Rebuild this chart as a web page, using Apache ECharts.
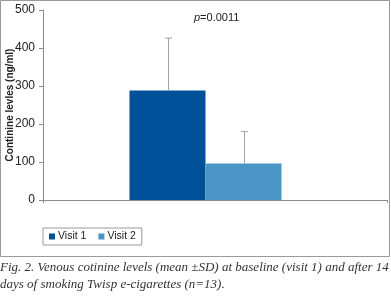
<!DOCTYPE html>
<html>
<head>
<meta charset="utf-8">
<script src="https://cdn.jsdelivr.net/npm/echarts@6/dist/echarts.min.js"></script>
<style>
  html, body { margin: 0; padding: 0; background: #fff; }
  #chart { width: 391px; height: 297px; }
</style>
</head>
<body>
<div id="chart"></div>
<script>
// data
var visits = ['Visit 1', 'Visit 2']
var means = [288, 96]
var sds = [138, 84]
var yTicks = [0, 100, 200, 300, 400, 500]
var pText = '=0.0011'
var yName = 'Continine levles (ng/ml)'
var caption = [
  'Fig. 2. Venous cotinine levels (mean \u00b1SD) at baseline (visit 1) and after 14',
  'days of smoking Twisp e-cigarettes (n=13).'
]

var colors = ['#00509a', '#4a97c7']
var sansFont = "'Liberation Sans', Arial, sans-serif"
var barW = 76

var chart = echarts.init(document.getElementById('chart'))

var barSeries = visits.map(function (name, i) {
  return {
    name: name,
    type: 'bar',
    xAxisIndex: 0,
    yAxisIndex: 0,
    barWidth: barW,
    barGap: '0%',
    data: [means[i]],
    itemStyle: { color: colors[i] },
    silent: true
  }
})

// error bars (upper half only, like the original)
var errSeries = {
  type: 'custom',
  xAxisIndex: 0,
  yAxisIndex: 0,
  silent: true,
  z: 5,
  data: means.map(function (m, i) { return [0, m, m + sds[i], i] }),
  renderItem: function (params, api) {
    var side = api.value(3) === 0 ? -1 : 1
    var base = api.coord([0, api.value(1)])
    var top = api.coord([0, api.value(2)])
    var x = Math.round(base[0] + side * barW / 2) + 0.5
    var style = { stroke: '#a3a3a3', lineWidth: 1 }
    return {
      type: 'group',
      children: [
        { type: 'line', shape: { x1: x, y1: base[1], x2: x, y2: top[1] }, style: style },
        { type: 'line', shape: { x1: x - 3.5, y1: top[1], x2: x + 3.5, y2: top[1] }, style: style }
      ]
    }
  }
}

chart.setOption({
  animation: false,
  textStyle: { fontFamily: sansFont },
  title: [
    {
      text: '{i|p}' + pText,
      left: 194,
      top: 12,
      padding: 0,
      textStyle: {
        fontSize: 11,
        fontWeight: 'normal',
        color: '#222',
        fontFamily: sansFont,
        rich: { i: { fontStyle: 'italic', fontSize: 11, color: '#222', fontFamily: sansFont } }
      }
    },
    {
      text: caption.join('\n'),
      left: 0,
      top: 259,
      padding: 0,
      textStyle: {
        fontFamily: "'Liberation Serif', serif",
        fontStyle: 'italic',
        fontWeight: 'normal',
        fontSize: 13,
        lineHeight: 17,
        color: '#333'
      }
    }
  ],
  graphic: [
    {
      type: 'rect',
      silent: true,
      shape: { x: 0.5, y: 0.5, width: 389, height: 256 },
      style: { fill: 'none', stroke: '#9a9a9a', lineWidth: 1 }
    }
  ],
  legend: {
    data: visits,
    left: 43,
    top: 228,
    padding: [3, 6, 3, 6],
    itemWidth: 6,
    itemHeight: 6,
    itemGap: 12,
    icon: 'rect',
    borderColor: '#9a9a9a',
    borderWidth: 1,
    selectedMode: false,
    textStyle: { fontSize: 10.5, color: '#222', fontFamily: sansFont, padding: [0, 0, 0, -2] }
  },
  grid: [
    { left: 43, right: 23, top: 10, bottom: 97, outerBoundsMode: 'none', containLabel: false },
    { left: 43, right: 4, top: 10, bottom: 97, outerBoundsMode: 'none', containLabel: false }
  ],
  xAxis: [
    {
      type: 'category',
      gridIndex: 0,
      data: [''],
      axisLine: { show: false },
      axisTick: { show: false },
      axisLabel: { show: false }
    },
    {
      type: 'category',
      gridIndex: 1,
      data: [''],
      axisLine: { show: true, lineStyle: { color: '#8c8c8c', width: 1 } },
      axisTick: { show: true, length: 3, lineStyle: { color: '#8c8c8c' } },
      axisLabel: { show: false }
    }
  ],
  yAxis: [
    {
      type: 'value',
      gridIndex: 0,
      min: yTicks[0],
      max: yTicks[yTicks.length - 1],
      interval: yTicks[1] - yTicks[0],
      name: yName,
      nameLocation: 'middle',
      nameGap: 28,
      nameMoveOverlap: false,
      nameTextStyle: { fontSize: 10, fontWeight: 'bold', color: '#222', fontFamily: sansFont },
      axisLine: { show: true, lineStyle: { color: '#8c8c8c', width: 1 } },
      axisTick: { show: true, length: 4, lineStyle: { color: '#8c8c8c' } },
      splitLine: { show: false },
      axisLabel: { fontSize: 12, color: '#222', margin: 8, fontFamily: sansFont }
    },
    {
      type: 'value',
      gridIndex: 1,
      min: 0,
      max: 500,
      show: false
    }
  ],
  series: barSeries.concat([errSeries])
})
</script>
</body>
</html>
